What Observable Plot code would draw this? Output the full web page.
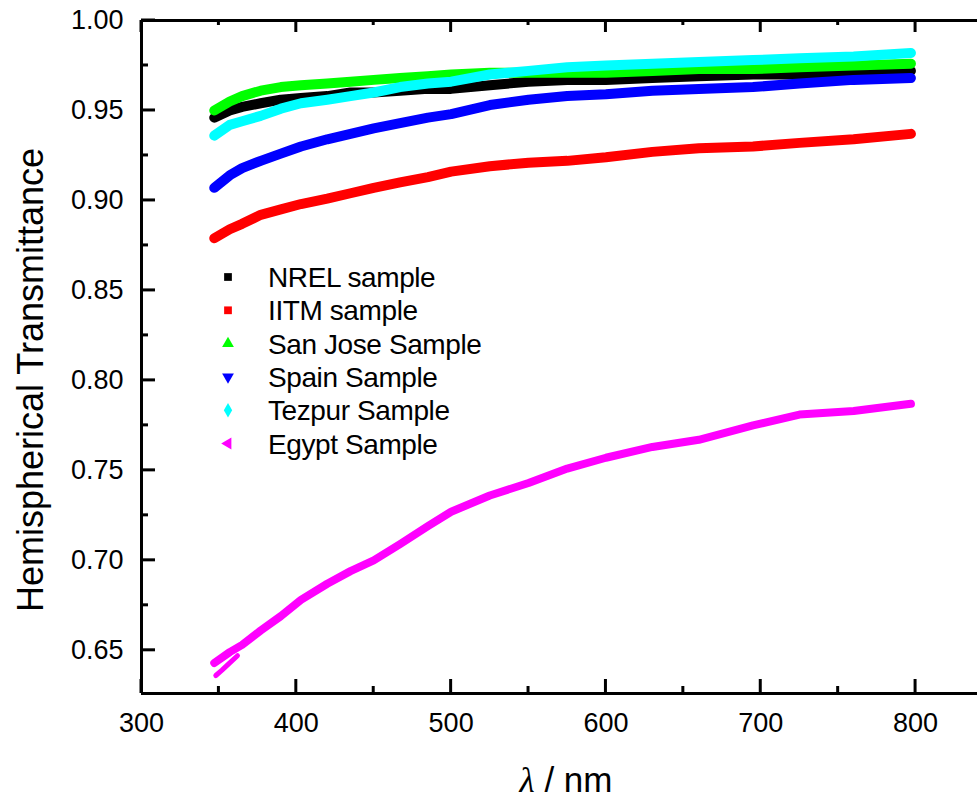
<!DOCTYPE html>
<html>
<head>
<meta charset="utf-8">
<script src="https://cdn.jsdelivr.net/npm/d3@7"></script>
<script src="https://cdn.jsdelivr.net/npm/@observablehq/plot@0.6"></script>
<style>
  body { margin: 0; background: #fff; }
  #chart svg { overflow: visible; display: block; }
</style>
</head>
<body>
<div id="chart"></div>
<script>
// ---- data ----
const seriesNames  = ["NREL sample", "IITM sample", "San Jose Sample", "Spain Sample", "Tezpur Sample", "Egypt Sample"];
const seriesColors = ["#000000", "#ff0000", "#00ff00", "#0000ff", "#00ffff", "#ff00ff"];
const seriesSymbols = ["square", "square", "triangle", "triangleDown", "diamond", "triangleLeft"];

const wavelengths = [347, 357, 365, 377, 390, 403, 420, 435, 450, 467, 485, 500, 525, 550, 575, 600, 630, 660, 695, 725, 760, 797];
const nrel    = [0.946, 0.950, 0.952, 0.954, 0.956, 0.957, 0.958, 0.960, 0.960, 0.961, 0.962, 0.962, 0.964, 0.966, 0.967, 0.967, 0.968, 0.969, 0.970, 0.970, 0.971, 0.972];
const iitm    = [0.879, 0.884, 0.887, 0.892, 0.895, 0.898, 0.901, 0.904, 0.907, 0.910, 0.913, 0.916, 0.919, 0.921, 0.922, 0.924, 0.927, 0.929, 0.930, 0.932, 0.934, 0.937];
const sanJose = [0.950, 0.955, 0.958, 0.961, 0.963, 0.964, 0.965, 0.966, 0.967, 0.968, 0.969, 0.970, 0.971, 0.971, 0.971, 0.971, 0.972, 0.973, 0.973, 0.974, 0.975, 0.976];
const spain   = [0.907, 0.914, 0.918, 0.922, 0.926, 0.930, 0.934, 0.937, 0.940, 0.943, 0.946, 0.948, 0.953, 0.956, 0.958, 0.959, 0.961, 0.962, 0.963, 0.965, 0.967, 0.968];
const tezpur  = [0.936, 0.942, 0.944, 0.947, 0.951, 0.954, 0.956, 0.958, 0.960, 0.963, 0.965, 0.966, 0.970, 0.972, 0.974, 0.975, 0.976, 0.977, 0.978, 0.979, 0.980, 0.982];
const egypt   = [0.643, 0.649, 0.653, 0.661, 0.669, 0.678, 0.687, 0.694, 0.700, 0.709, 0.719, 0.727, 0.736, 0.743, 0.751, 0.757, 0.763, 0.767, 0.775, 0.781, 0.783, 0.787];
// second (lower) start of the Egypt trace
const egyptLowWavelengths = [348, 352, 357, 362];
const egyptLow            = [0.636, 0.639, 0.643, 0.647];

const xMajorTicks = [300, 400, 500, 600, 700, 800];
const xMinorTicks = [350, 450, 550, 650, 750];
const yMajorTicks = [0.65, 0.70, 0.75, 0.80, 0.85, 0.90, 0.95, 1.00];
const yMinorTicks = [0.675, 0.725, 0.775, 0.825, 0.875, 0.925, 0.975];
const xDomain = [300, 840];
const yDomain = [0.626, 1.0];

const seriesValues = [nrel, iitm, sanJose, spain, tezpur, egypt];

// ---- layout ----
const W = 977, H = 799, mL = 141, mR = 0, mT = 20, mB = 106;

// ---- build rows ----
const rows = [];
seriesValues.forEach((vals, si) => {
  vals.forEach((v, i) => rows.push({series: seriesNames[si], wl: wavelengths[i], v}));
});
const lowRows = egyptLow.map((v, i) => ({series: "Egypt Sample low", wl: egyptLowWavelengths[i], v}));

const font = "'Liberation Sans', Arial, Helvetica, sans-serif";

const lineMarks = seriesNames.map((name, si) =>
  Plot.line(rows.filter(d => d.series === name), {
    x: "wl", y: "v", stroke: seriesColors[si],
    strokeWidth: si === 5 ? 8 : 10, strokeLinejoin: "round", curve: "linear"
  })
);

const chart = Plot.plot({
  width: W,
  height: H,
  marginLeft: mL,
  marginRight: mR,
  marginTop: mT,
  marginBottom: mB,
  style: {fontFamily: font, background: "#fff", color: "#000", overflow: "visible"},
  x: {domain: xDomain},
  y: {domain: yDomain},
  marks: [
    ...lineMarks,
    Plot.line(lowRows, {x: "wl", y: "v", stroke: seriesColors[5], strokeWidth: 5}),
    // axis lines
    Plot.ruleX([xDomain[0]], {strokeWidth: 3}),
    Plot.ruleY([yDomain[0]], {strokeWidth: 3}),
    Plot.ruleY([yDomain[1]], {strokeWidth: 3}),
    // tick labels
    Plot.axisX(xMajorTicks, {anchor: "bottom", tickSize: 0, tickPadding: 19, fontSize: 27, label: null}),
    Plot.axisY(yMajorTicks, {anchor: "left", tickSize: 0, tickPadding: 18, fontSize: 27, tickFormat: d3.format(".2f"), label: null})
  ]
});

document.getElementById("chart").appendChild(chart);

const svg = d3.select(chart);
const sx = chart.scale("x"), sy = chart.scale("y");
const xLeft = sx.apply(xDomain[0]);
const yBottom = sy.apply(yDomain[0]);
const yTop = sy.apply(yDomain[1]);

// ---- inward ticks (positions from Plot's scales) ----
const ticks = svg.append("g").attr("stroke", "#000").attr("stroke-width", 3);
const tickSpecs = [
  {vals: xMajorTicks, kind: "bottom", len: 14},
  {vals: xMinorTicks, kind: "bottom", len: 7},
  {vals: xMajorTicks, kind: "top", len: 12},
  {vals: xMinorTicks, kind: "top", len: 5},
  {vals: yMajorTicks, kind: "left", len: 14},
  {vals: yMinorTicks, kind: "left", len: 7}
];
tickSpecs.forEach(({vals, kind, len}) => {
  vals.forEach(v => {
    if (kind === "bottom") {
      const x = sx.apply(v);
      ticks.append("line").attr("x1", x).attr("x2", x).attr("y1", yBottom).attr("y2", yBottom - len);
    } else if (kind === "top") {
      const x = sx.apply(v);
      ticks.append("line").attr("x1", x).attr("x2", x).attr("y1", yTop).attr("y2", yTop + len);
    } else {
      const y = sy.apply(v);
      ticks.append("line").attr("x1", xLeft).attr("x2", xLeft + len).attr("y1", y).attr("y2", y);
    }
  });
});

// ---- axis titles & legend ----
svg.append("text")
  .attr("transform", "translate(43,380) rotate(-90)")
  .attr("text-anchor", "middle")
  .attr("font-family", font)
  .attr("font-size", 36)
  .attr("fill", "#000")
  .text("Hemispherical Transmittance");

const xt = svg.append("text")
  .attr("x", 566).attr("y", 792)
  .attr("text-anchor", "middle")
  .attr("font-family", font)
  .attr("font-size", 35)
  .attr("fill", "#000");
xt.append("tspan").attr("font-style", "italic").attr("font-family", "'Liberation Serif', serif").text("λ");
xt.append("tspan").text(" / nm");

const symbolMap = {
  square: d3.symbolSquare, triangle: d3.symbolTriangle,
  triangleDown: d3.symbolTriangle, diamond: d3.symbolDiamond, triangleLeft: d3.symbolTriangle
};
const symbolRotate = {square: 0, triangle: 0, triangleDown: 180, diamond: 0, triangleLeft: -90};
const legend = svg.append("g").attr("text-anchor", "start");
seriesNames.forEach((name, i) => {
  const y = 277 + i * 33.3;
  legend.append("path")
    .attr("d", d3.symbol(symbolMap[seriesSymbols[i]], 60)())
    .attr("transform", `translate(228,${y}) rotate(${symbolRotate[seriesSymbols[i]]})`)
    .attr("fill", seriesColors[i]);
  legend.append("text")
    .attr("x", 268).attr("y", y + 10)
    .attr("text-anchor", "start")
    .attr("font-family", font)
    .attr("font-size", 28)
    .attr("letter-spacing", "-0.4")
    .attr("fill", "#000")
    .text(name);
});
</script>
</body>
</html>
